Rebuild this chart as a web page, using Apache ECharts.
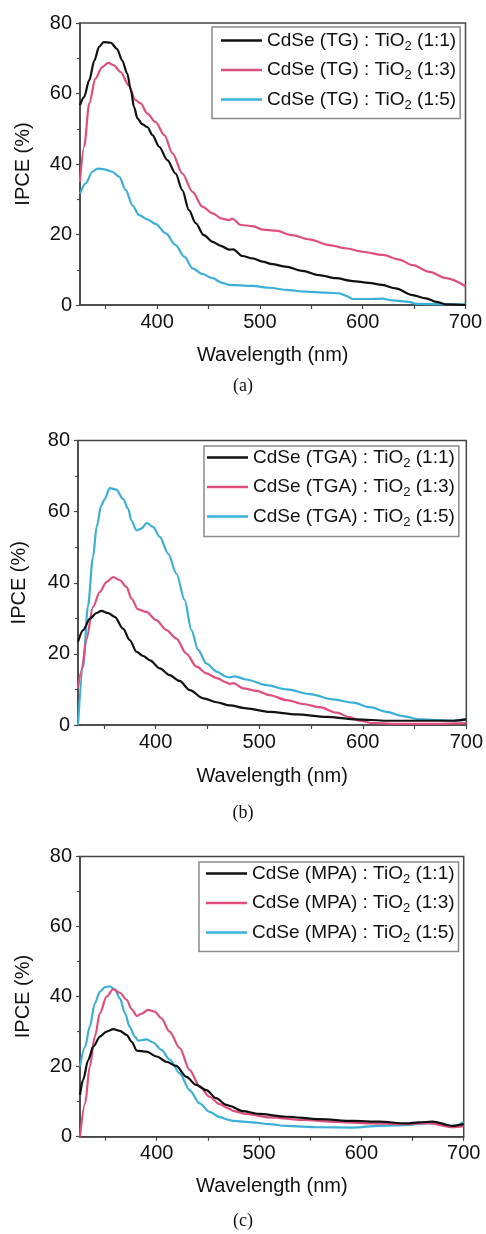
<!DOCTYPE html>
<html>
<head>
<meta charset="utf-8">
<script src="https://cdn.jsdelivr.net/npm/echarts@6.0.0/dist/echarts.min.js"></script>
<style>
html,body{margin:0;padding:0;background:#fff;}
#chart{width:486px;height:1234px;}
</style>
</head>
<body>
<div id="chart"></div>
<script>
// ---------- data (wavelength nm, IPCE %) ----------
const xTickValues = [350, 400, 450, 500, 550, 600, 650, 700];
const xLabelValues = [400, 500, 600, 700];
const panelCaptions = ['(a)', '(b)', '(c)'];
const seriesColors = ['#111111', '#de4f7c', '#3bb0d6'];

const namesA = ['CdSe (TG) : TiO2 (1:1)', 'CdSe (TG) : TiO2 (1:3)', 'CdSe (TG) : TiO2 (1:5)'];
const namesB = ['CdSe (TGA) : TiO2 (1:1)', 'CdSe (TGA) : TiO2 (1:3)', 'CdSe (TGA) : TiO2 (1:5)'];
const namesC = ['CdSe (MPA) : TiO2 (1:1)', 'CdSe (MPA) : TiO2 (1:3)', 'CdSe (MPA) : TiO2 (1:5)'];

const tg11 = [[325,56.7],[329,59],[334,63.8],[339,69.4],[343.5,73.2],[348,74.6],[355,74.4],[361,72.7],[366,69.4],[371,65.6],[374.5,60.9],[377.5,56.2],[381,52.9],[385.5,51.3],[390.5,50.5],[395.5,48.2],[402,44.9],[410,41.1],[418,37.3],[424.5,32.6],[431,26.9],[437.5,23.2],[445.5,19.8],[454,17.9],[462,16.8],[470,15.7],[474,15.8],[483,13.9],[493,13.2],[502.5,12.3],[512,11.6],[525,10.9],[541.5,9.7],[557.5,8.5],[574,7.6],[590,6.8],[606,6.3],[619,5.7],[632,4.7],[648.5,2.8],[661.5,1.9],[671.5,0.9],[681,0.2],[700,0]];
const tg13 = [[325,34.9],[329,44.9],[334,57.2],[340,64.2],[346.5,67.5],[352.5,68.7],[358,68],[364.5,66.1],[372.5,62.3],[379,58.1],[384,57.2],[390.5,54.3],[398.5,51.9],[407,48.2],[415,43],[424.5,37.3],[434.5,32.1],[444,27.9],[454,26],[463,24.5],[470,24.1],[473,24.5],[481.5,22.7],[493,22.4],[502.5,21.4],[515.5,21.1],[531.5,19.8],[548,18.6],[567.5,17],[583.5,16.1],[600,15.1],[619.5,14.2],[635.5,12.9],[648.5,11.3],[665,9.4],[681,7.6],[700,5.3]];
const tg15 = [[325,31.6],[330.5,34.5],[337,37.8],[342,38.7],[348.5,38.5],[356.5,37.8],[363,36.4],[369.5,32.6],[376,28.3],[382.5,25.5],[390.5,24.3],[398.5,23],[408.5,20.3],[418,17],[426.5,13.7],[434.5,10.4],[444,8.8],[454,7.6],[463,6.3],[470,5.7],[493,5.4],[509,4.9],[525,4.3],[545,3.8],[564,3.5],[577,3.3],[584,2.6],[590,1.7],[606,1.7],[619,1.8],[629,1.3],[645,0.9],[652,0.3],[700,0.2]];

const tga11 = [[325,23.4],[330,26.7],[336.5,29.9],[343,31.5],[347.5,32.1],[354,31.5],[360.5,30.4],[368.5,27.1],[375,23.9],[381.5,20.6],[388,19.4],[394.5,18.2],[404,15.9],[413.5,14],[423,12.4],[433,9.8],[446,7.5],[459,6.4],[471.5,5.5],[487.5,4.7],[510,3.7],[536,3],[565,2.3],[594,1.6],[623,1.2],[655,1.2],[687,1.2],[700,1.6]];
const tga13 = [[325,10.3],[328.5,15.4],[333,23.9],[339.5,33.2],[346,37.4],[352.5,40.2],[359,41.6],[365.5,40.7],[372,38.8],[376.5,35.6],[383,32.5],[391,31.8],[400.5,29.5],[410.5,26.7],[420,24.3],[429.5,20.1],[439.5,16.4],[449,14.5],[459,13.2],[468,12],[471.5,11.5],[475,11.8],[484.5,10.3],[497.5,9.6],[510,8.4],[526.5,7],[542.5,5.9],[558.5,5],[574.5,3.5],[587.5,2.2],[597,1.2],[610,0.5],[639,0.3],[671,0.3],[700,0.5]];
const tga15 = [[325,0],[330,16.4],[334.5,33.2],[339.5,47.2],[343,55.7],[347.5,61.8],[351,63.6],[355.5,66.6],[362,66.2],[368.5,63.6],[373.5,60.8],[376.5,57.5],[381.5,54.7],[386,55.2],[391.5,56.8],[397.5,55.7],[404,52.9],[412,48.2],[420,42.6],[428,35.1],[434.5,26.7],[441,21.1],[449,17.3],[459,15],[468,13.6],[471.5,13.4],[476.5,13.7],[487.5,12.8],[507,11.2],[526.5,10],[549,8.7],[571.5,7.2],[590.5,6.3],[607,5],[623,3.7],[639,2.5],[655,1.6],[671,1.4],[687,1.2],[700,1.6]];

const mpa11 = [[325,11.9],[328,16.2],[333,21.9],[338,25.7],[344.5,28.6],[351,30],[357.5,30.7],[364,30.2],[370.5,29.1],[375.5,27.1],[380.5,24.6],[390,24.3],[400,22.9],[409.5,21.4],[419,20.2],[429,17.1],[438.5,14.8],[448.5,13.3],[458,11],[468,9.1],[471,8.8],[484,7.3],[500,6.5],[526.5,5.7],[559,5],[591.5,4.5],[617.5,4.3],[643.5,3.8],[656,4.1],[669.5,4.3],[689,3.1],[700,3.6]];
const mpa13 = [[325,0],[330,9.5],[334.5,20],[339.5,28.6],[344.5,35.3],[351,40],[357.5,42.1],[364,41.1],[370.5,39.1],[375.5,36.4],[380.5,34.5],[385,35.1],[391.5,36.2],[398,35.7],[404.5,33.8],[412.5,30],[422.5,25.3],[432,19.1],[442,14.3],[451.5,11.4],[461.5,9.3],[470.5,8],[474.5,7.4],[487.5,6.5],[510,5.5],[542.5,4.8],[575,4.2],[607.5,3.8],[640,3.6],[666,3.9],[689,2.7],[700,3]];
const mpa15 = [[325,20],[330,25.7],[334.5,31.4],[339.5,38.1],[344.5,41.4],[349.5,42.7],[354,42.9],[359,42.1],[364,39.5],[369,35.3],[373.5,31.4],[378.5,28.6],[382,27.4],[390,27.8],[396.5,26.9],[404.5,24.8],[412.5,22.1],[422.5,18.1],[432,13.3],[442,9.5],[451.5,7.1],[461.5,5.6],[470.5,4.8],[474.5,4.5],[494,4.1],[510,3.6],[526.5,3.1],[559,2.7],[591.5,2.6],[617.5,3.1],[643.5,3.3],[663,3.8],[679,3.8],[689,2.9],[700,4.2]];

// ---------- layout ----------
const FONT = '"Liberation Sans", Arial, sans-serif';
const panels = [
  {names: namesA, data: [tg11, tg13, tg15], grid: {left: 80, top: 23, width: 385.5, height: 282},
   legend: {left: 212, top: 27, padding: [4, 4, 7, 9]}, xGap: 40, yGap: 47, caption: 388},
  {names: namesB, data: [tga11, tga13, tga15], grid: {left: 78, top: 440.5, width: 390, height: 284.5},
   legend: {left: 204, top: 446, padding: [2, 4, 8, 3]}, xGap: 41, yGap: 49, caption: 815},
  {names: namesC, data: [mpa11, mpa13, mpa15], grid: {left: 80, top: 856.5, width: 383.7, height: 280.2},
   legend: {left: 199, top: 862, padding: [2, 4, 7, 7]}, xGap: 40, yGap: 47, caption: 1223}
];

const axisColor = '#444';
const option = {
  animation: false,
  backgroundColor: '#fff',
  grid: [], xAxis: [], yAxis: [], legend: [], series: [], graphic: []
};

panels.forEach((p, i) => {
  option.grid.push(Object.assign({show: true, borderColor: axisColor, borderWidth: 1.5, backgroundColor: 'transparent'}, p.grid));
  option.xAxis.push({
    type: 'value', gridIndex: i, min: 325, max: 700,
    name: 'Wavelength (nm)', nameLocation: 'middle', nameGap: p.xGap,
    nameTextStyle: {fontSize: 20, fontFamily: FONT, color: '#111'},
    axisLine: {show: true, onZero: false, lineStyle: {color: axisColor, width: 1.5}},
    axisTick: {show: true, inside: false, length: 4, customValues: xTickValues, lineStyle: {color: axisColor, width: 1.2}},
    axisLabel: {show: true, fontSize: 20, fontFamily: FONT, color: '#111', margin: 7, customValues: xLabelValues},
    splitLine: {show: false}
  });
  option.yAxis.push({
    type: 'value', gridIndex: i, min: 0, max: 80, interval: 20,
    name: 'IPCE (%)', nameLocation: 'middle', nameGap: p.yGap,
    nameTextStyle: {fontSize: 20, fontFamily: FONT, color: '#111'},
    axisLine: {show: true, onZero: false, lineStyle: {color: axisColor, width: 1.5}},
    axisTick: {show: true, inside: false, length: 4, lineStyle: {color: axisColor, width: 1.2}},
    minorTick: {show: true, splitNumber: 2, length: 3, lineStyle: {color: axisColor, width: 1.2}},
    axisLabel: {fontSize: 20, fontFamily: FONT, color: '#111', margin: 8},
    splitLine: {show: false}
  });
  option.legend.push({
    orient: 'vertical', left: p.legend.left, top: p.legend.top, padding: p.legend.padding,
    itemGap: 8, itemWidth: 41, itemHeight: 2.5, icon: 'rect',
    borderColor: '#8a8a8a', borderWidth: 1.5, backgroundColor: '#fff',
    selectedMode: false,
    data: p.names,
    formatter: name => '{n|' + name.replace('TiO2', 'TiO}{s|2}{n|') + '}',
    textStyle: {
      fontSize: 19, fontFamily: FONT, color: '#111',
      rich: {
        n: {fontSize: 19, lineHeight: 24, fontFamily: FONT, color: '#111'},
        s: {fontSize: 13, lineHeight: 12, verticalAlign: 'bottom', fontFamily: FONT, color: '#111'}
      }
    }
  });
  p.names.forEach((nm, k) => {
    option.series.push({
      type: 'line', name: nm, xAxisIndex: i, yAxisIndex: i,
      data: p.data[k], symbol: 'none', showSymbol: false,
      smooth: 0.3, smoothMonotone: 'x',
      lineStyle: {width: 2.2, color: seriesColors[k]},
      itemStyle: {color: seriesColors[k]},
      z: 3 - k
    });
  });
  option.graphic.push({
    type: 'text', left: 'center', top: p.caption - 11,
    style: {text: panelCaptions[i], font: '18px "Liberation Serif", "Times New Roman", serif', fill: '#111'}
  });
});

const chart = echarts.init(document.getElementById('chart'), null, {renderer: 'canvas'});
chart.setOption(option);
</script>
</body>
</html>
